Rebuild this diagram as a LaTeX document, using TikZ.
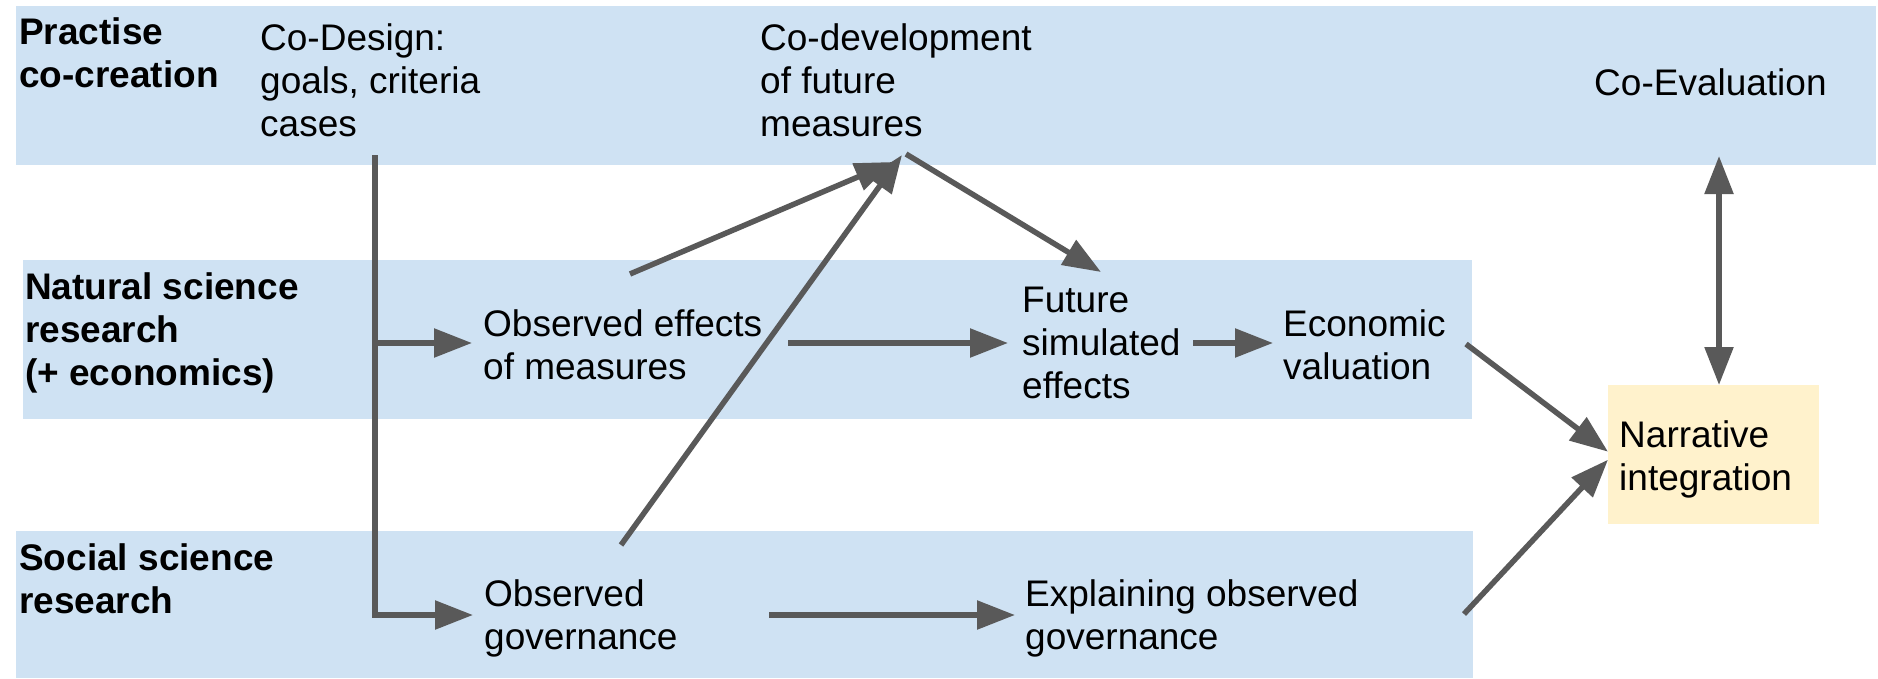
\documentclass[tikz,border=0pt]{standalone}
\usepackage{fontspec}
\setmainfont{Liberation Sans}
\usetikzlibrary{arrows.meta}
\definecolor{bandblue}{HTML}{CFE2F3}
\definecolor{narryellow}{HTML}{FFF2CC}
\definecolor{arrowgray}{HTML}{595959}

\begin{document}
\begin{tikzpicture}[x=1pt, y=-1pt,
  >={Triangle[length=38pt,width=28pt]},
  band/.style={fill=bandblue},
  lbl/.style={anchor=north west, inner sep=0pt, align=left, font=\fontsize{37}{43}\selectfont},
  hd/.style={lbl, font=\fontsize{37}{43}\selectfont\bfseries},
  flow/.style={draw=arrowgray, line width=5.5pt, ->}]
  \useasboundingbox (0,0) rectangle (1878,678);

  % Draw the three research bands
  \fill[band] (16,6) rectangle (1876,165);
  \fill[band] (23,260) rectangle (1472,419);
  \fill[band] (16,531) rectangle (1473,678);

  % Band headings
  \node[hd] (practise) at (19,17) {Practise\\co-creation};
  \node[hd] (natural) at (25,272) {Natural science\\research\\(+ economics)};
  \node[hd] (social) at (19,543) {Social science\\research};

  % Steps in each band
  \node[lbl] (codesign) at (260,23) {Co-Design:\\goals, criteria\\cases};
  \node[lbl] (codev) at (760,23) {Co-development\\of future\\measures};
  \node[lbl] (coeval) at (1594,68) {Co-Evaluation};
  \node[lbl] (obseff) at (483,309) {Observed effects\\of measures};
  \node[lbl] (future) at (1022,287) {Future\\simulated\\effects};
  \node[lbl] (econ) at (1283,309) {Economic\\valuation};
  \node[lbl] (obsgov) at (484,579) {Observed\\governance};
  \node[lbl] (explain) at (1025,579) {Explaining observed\\governance};
  \node[lbl, fill=narryellow, inner xsep=11pt, text width=189pt, minimum height=139pt]
    (narr) at (1608,385) {\rule{0pt}{37pt}Narrative\\integration};

  % Connector ends
  \coordinate (spinetop) at (375,155);
  \coordinate (spinenat) at (375,343);
  \coordinate (effin) at (472,343);
  \coordinate (effout) at (788,343);
  \coordinate (effup) at (630,274);
  \coordinate (govin) at (473,615);
  \coordinate (govout) at (769,615);
  \coordinate (govup) at (621,545);
  \coordinate (devin) at (893,162);
  \coordinate (devtip) at (902,155);
  \coordinate (devout) at (906,154);
  \coordinate (futtop) at (1101,272);
  \coordinate (futin) at (1008,343);
  \coordinate (futout) at (1193,343);
  \coordinate (ecoin) at (1273,343);
  \coordinate (ecoout) at (1466,344);
  \coordinate (expin) at (1015,615);
  \coordinate (expout) at (1464,614);
  \coordinate (evalbot) at (1719,156);

  % Co-Design feeds both research bands
  \draw[flow, line join=miter] (spinetop) |- (govin);
  \draw[flow] (spinenat) -- (effin);

  % Flows between steps
  \draw[flow] (effout) -- (futin);
  \draw[flow] (futout) -- (ecoin);
  \draw[flow] (govout) -- (expin);
  \draw[flow] (effup) -- (devin);
  \draw[flow] (govup) -- (devtip);
  \draw[flow] (devout) -- (futtop);
  \draw[flow] (ecoout) -- ([yshift=3pt]narr.west);
  \draw[flow] (expout) -- ([yshift=-5pt]narr.west);
  \draw[flow, <->] (evalbot) -- (narr.north -| evalbot);
\end{tikzpicture}
\end{document}
